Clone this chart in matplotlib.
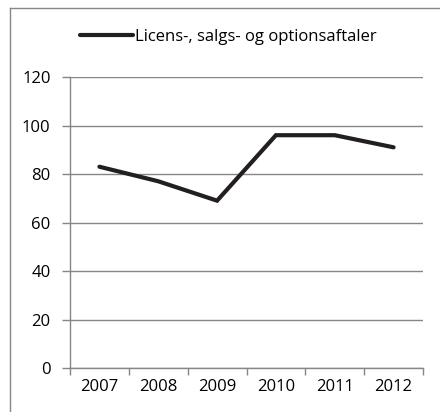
import matplotlib.pyplot as plt
import numpy as np
from matplotlib.lines import Line2D

years = ["2007", "2008", "2009", "2010", "2011", "2012"]
values = [83, 77, 69, 96, 96, 91]
series_name = "Licens-, salgs- og optionsaftaler"
y_ticks = [0, 20, 40, 60, 80, 100, 120]

plt.rcParams["font.family"] = ["Open Sans", "DejaVu Sans"]
grey = "#868686"
fs = 12

fig = plt.figure(figsize=(4.4, 4.12), dpi=100)
ax = fig.add_axes([70 / 440, 1 - 368 / 412, 353 / 440, 291 / 412])

x = np.arange(len(years))
line, = ax.plot(x, values, color="#231f20", lw=3, solid_capstyle="round",
                solid_joinstyle="miter")

ax.set_xlim(-0.5, len(years) - 0.5)
ax.set_ylim(0, 120)
ax.set_yticks(y_ticks)
ax.yaxis.grid(True, color=grey, lw=1)
ax.set_axisbelow(True)

ax.set_xticks(x)
ax.set_xticklabels(years)
ax.set_xticks(np.arange(-0.5, len(years)), minor=True)
ax.tick_params(axis="x", which="major", length=0, pad=8, labelsize=fs)
ax.tick_params(axis="x", which="minor", length=5, color=grey, width=1)
ax.tick_params(axis="y", length=6, color=grey, width=1, pad=8, labelsize=fs)

for s in ["top", "right"]:
    ax.spines[s].set_visible(False)
for s in ["left", "bottom"]:
    ax.spines[s].set_color(grey)
    ax.spines[s].set_linewidth(1)

fig.legend([line], [series_name], loc="center", bbox_to_anchor=(228 / 440, 1 - 37 / 412),
           frameon=False, fontsize=fs, handlelength=3.2, handletextpad=0.1)

# outer chart frame (cut off on the right and bottom)
fig.add_artist(Line2D([10 / 440, 10 / 440], [0, 1 - 8 / 412], color=grey, lw=1))
fig.add_artist(Line2D([10 / 440, 1], [1 - 8 / 412, 1 - 8 / 412], color=grey, lw=1))

fig.savefig("out.png", dpi=100)
